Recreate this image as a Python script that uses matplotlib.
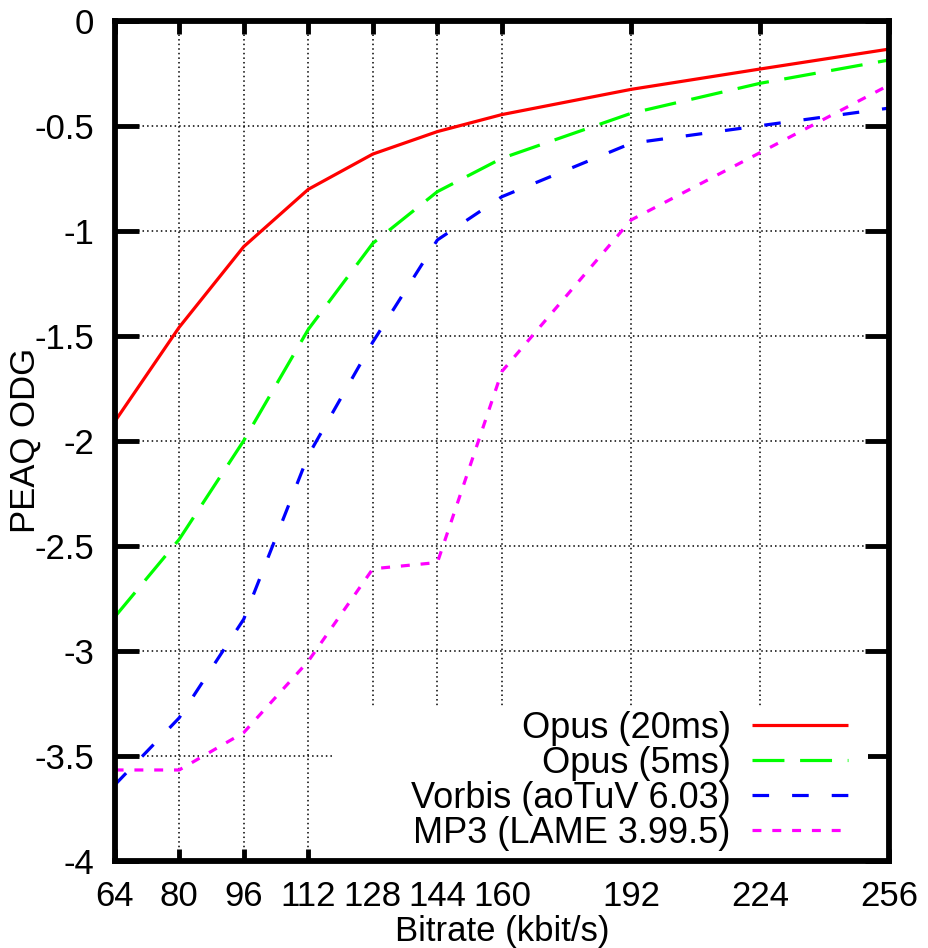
import matplotlib
matplotlib.use("Agg")
import matplotlib.pyplot as plt
from matplotlib.patches import Rectangle

plt.rcParams['font.family'] = ['Liberation Sans', 'DejaVu Sans']
plt.rcParams['axes.unicode_minus'] = False

bitrates = [64, 80, 96, 112, 128, 144, 160, 192, 224, 256]
opus20 = [-1.91, -1.46, -1.076, -0.803, -0.635, -0.528, -0.447, -0.327, -0.23, -0.135]
opus5 = [-2.84, -2.47, -2.0, -1.47, -1.06, -0.814, -0.655, -0.441, -0.298, -0.187]
vorbis = [-3.64, -3.32, -2.85, -2.07, -1.53, -1.044, -0.838, -0.584, -0.50, -0.416]
mp3 = [-3.568, -3.568, -3.39, -3.05, -2.61, -2.58, -1.67, -0.949, -0.628, -0.306]

labels = ["Opus (20ms)", "Opus (5ms)", "Vorbis (aoTuV 6.03)", "MP3 (LAME 3.99.5)"]
xticks = [64, 80, 96, 112, 128, 144, 160, 192, 224, 256]
yticks = [0, -0.5, -1, -1.5, -2, -2.5, -3, -3.5, -4]
ytick_labels = ["0", "-0.5", "-1", "-1.5", "-2", "-2.5", "-3", "-3.5", "-4"]

W, H = 929, 948
fig = plt.figure(figsize=(W / 100, H / 100), dpi=100)
ax = fig.add_axes([114.6 / W, 1 - 860.7 / H, (889.3 - 114.6) / W, (860.7 - 20.7) / H])

# grid (manual, low zorder so the key box can hide it while ticks stay on top)
ax.vlines(xticks[1:-1], -4, 0, colors='black', linestyles=(0, (1, 2)), linewidth=1.1, zorder=1)
ax.hlines(yticks[1:-1], 64, 256, colors='black', linestyles=(0, (1, 2)), linewidth=1.1, zorder=1)

lw = 2.3
ax.plot(bitrates, opus20, color='#ff0000', lw=lw, solid_capstyle='butt', label=labels[0], zorder=2)
ax.plot(bitrates, opus5, color='#00ff00', lw=lw, dashes=(10, 4.9), label=labels[1], zorder=2)
ax.plot(bitrates, vorbis, color='#0000ff', lw=lw, dashes=(5.2, 7.2), label=labels[2], zorder=2)
ax.plot(bitrates, mp3, color='#ff00ff', lw=lw, dashes=(2.8, 3.4), label=labels[3], zorder=2)

ax.set_xlim(64, 256)
ax.set_ylim(-4, 0)
ax.set_xticks(xticks)
ax.set_xticklabels([str(v) for v in xticks])
ax.set_yticks(yticks)
ax.set_yticklabels(ytick_labels)

ax.tick_params(axis='x', direction='in', length=9, width=3.5, labelsize=25, pad=14,
               top=True, bottom=True)
ax.tick_params(axis='y', direction='in', length=17, width=3.5, labelsize=25, pad=14.5,
               left=True, right=True)
for s in ax.spines.values():
    s.set_linewidth(4.2)

ax.set_xlabel("Bitrate (kbit/s)", fontsize=25, labelpad=1.5)
ax.set_ylabel("PEAQ ODG", fontsize=25)
ax.yaxis.set_label_coords(-0.094, 0.5)

# opaque key box (white, no border) like gnuplot's key
ax.add_patch(Rectangle((0.2806, 0.0), 0.9725 - 0.2806, 0.183, transform=ax.transAxes,
                       facecolor='white', edgecolor='none', zorder=2.1))

leg = ax.legend(loc='lower right', bbox_to_anchor=((848 - 114.6) / 774.7, 0.012),
                markerfirst=False, fontsize=26, frameon=False,
                handlelength=2.65, handletextpad=0.6, labelspacing=0.0,
                borderpad=0.0, borderaxespad=0.0)
leg.set_zorder(2.2)
for t in leg.get_texts():
    t.set_ha('right')

fig.savefig("out.png", dpi=100)
